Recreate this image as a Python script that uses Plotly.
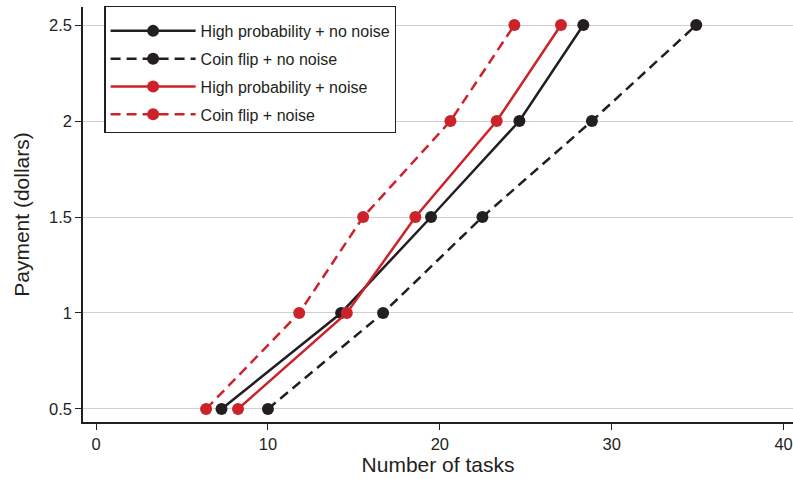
import plotly.graph_objects as go

payment = [0.5, 1.0, 1.5, 2.0, 2.5]
tasks_hp_nonoise = [7.3, 14.26, 19.49, 24.63, 28.35]
tasks_cf_nonoise = [10.0, 16.70, 22.48, 28.85, 34.92]
tasks_hp_noise = [8.26, 14.59, 18.58, 23.31, 27.05]
tasks_cf_noise = [6.40, 11.82, 15.54, 20.62, 24.34]

series_names = ["High probability + no noise", "Coin flip + no noise",
                "High probability + noise", "Coin flip + noise"]
x_ticks = [0, 10, 20, 30, 40]
y_ticks = [0.5, 1, 1.5, 2, 2.5]
y_ticklabels = ["0.5", "1", "1.5", "2", "2.5"]

BLACK = "#231f20"
RED = "#cc2229"
FONT = "Liberation Sans"

fig = go.Figure()
styles = [(BLACK, "solid"), (BLACK, "10px,6px"), (RED, "solid"), (RED, "10px,6px")]
datas = [tasks_hp_nonoise, tasks_cf_nonoise, tasks_hp_noise, tasks_cf_noise]
for i, (name, xs, (col, dash)) in enumerate(zip(series_names, datas, styles)):
    fig.add_trace(go.Scatter(
        x=xs, y=payment, name=name, mode="lines+markers",
        legendgroup=f"g{i}",
        line=dict(color=col, width=2.5, dash=dash),
        marker=dict(color=col, size=12),
    ))

fig.update_layout(
    width=793, height=479,
    margin=dict(l=83, r=0, t=7, b=57, autoexpand=False),
    paper_bgcolor="white", plot_bgcolor="white",
    font=dict(family=FONT, color=BLACK, size=15),
    legend=dict(
        x=0.03, y=1.002, xanchor="left", yanchor="top",
        bgcolor="white", bordercolor=BLACK, borderwidth=1.3,
        font=dict(size=16, family=FONT, color=BLACK),
        title=dict(text=" ", font=dict(size=5)),
        tracegroupgap=4, itemwidth=85,
        entrywidth=320, entrywidthmode="pixels",
    ),
    xaxis=dict(
        range=[-0.76, 40.55], tickvals=x_ticks, showgrid=False, zeroline=False,
        showline=True, linecolor=BLACK, linewidth=1.5,
        ticks="outside", ticklen=6, tickwidth=1.3, tickcolor=BLACK,
        tickfont=dict(size=16.5, family=FONT),
        title=dict(text="Number of tasks", font=dict(size=21, family=FONT), standoff=6),
        automargin=False,
    ),
    yaxis=dict(
        range=[0.432, 2.594], tickvals=y_ticks, ticktext=y_ticklabels,
        showgrid=True, gridcolor="#d0d0d0", gridwidth=1.3, zeroline=False,
        showline=True, linecolor=BLACK, linewidth=1.5,
        ticks="outside", ticklen=6, tickwidth=1.3, tickcolor=BLACK,
        tickfont=dict(size=16.5, family=FONT),
        title=dict(text="Payment (dollars)", font=dict(size=21, family=FONT), standoff=14),
        automargin=False,
    ),
)

fig.write_html("out.html", config={"displayModeBar": False},
               post_script="document.body.style.margin='0';document.body.style.overflow='hidden';")
